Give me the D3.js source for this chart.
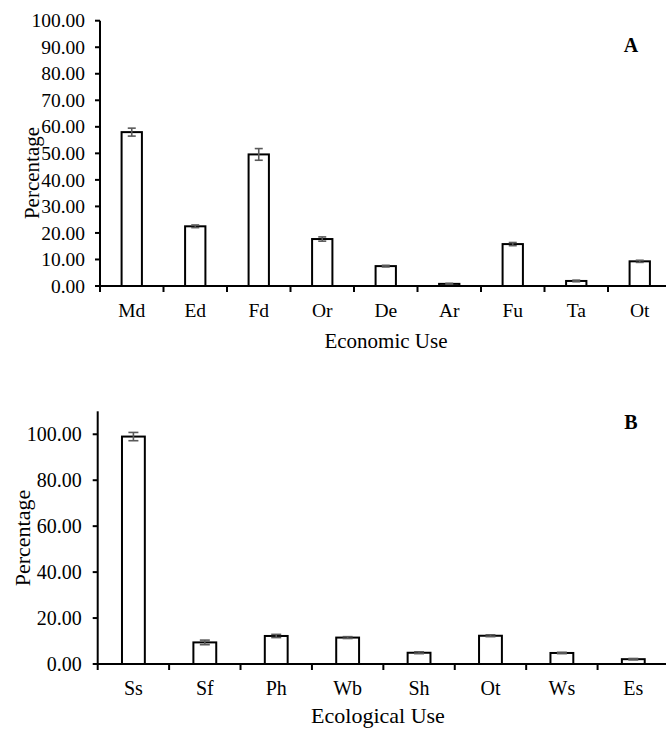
<!DOCTYPE html>
<html><head><meta charset="utf-8">
<script src="https://cdn.jsdelivr.net/npm/d3@7"></script>
<style>
html,body{margin:0;padding:0;background:#fff;}
svg text{font-family:"Liberation Serif","Times New Roman",serif;fill:#000;}
</style></head>
<body>
<svg id="c" width="666" height="729"></svg>
<script>
// ---- Data ----
const econCategories = ["Md","Ed","Fd","Or","De","Ar","Fu","Ta","Ot"];
const econValues     = [58.0, 22.5, 49.6, 17.7, 7.5, 0.8, 15.8, 1.9, 9.3];
const econErrors     = [1.5, 0.5, 2.2, 0.8, 0.3, 0.2, 0.6, 0.3, 0.4];
const econTicks      = [0,10,20,30,40,50,60,70,80,90,100];

const ecoCategories  = ["Ss","Sf","Ph","Wb","Sh","Ot","Ws","Es"];
const ecoValues      = [99.0, 9.4, 12.2, 11.5, 4.9, 12.3, 4.8, 2.1];
const ecoErrors      = [1.8, 1.0, 0.7, 0.4, 0.4, 0.4, 0.3, 0.3];
const ecoTicks       = [0,20,40,60,80,100];

const svg = d3.select("#c");

function panel(opt){
  const g = svg.append("g");
  const x = d3.scaleBand().domain(opt.cats).range(opt.xr).paddingInner(0.68).paddingOuter(0.34);
  const y = d3.scaleLinear().domain(opt.yd).range(opt.yr);
  const step = x.step();

  // bars
  g.selectAll("rect.bar").data(opt.cats).join("rect")
    .attr("x", d => x(d)).attr("width", x.bandwidth())
    .attr("y", (d,i) => y(opt.vals[i]))
    .attr("height", (d,i) => y(0) - y(opt.vals[i]))
    .attr("fill","#fff").attr("stroke","#000").attr("stroke-width",2);

  // error bars
  const eb = g.selectAll("g.eb").data(opt.cats).join("g");
  eb.append("line")
    .attr("x1", d => x(d)+x.bandwidth()/2).attr("x2", d => x(d)+x.bandwidth()/2)
    .attr("y1", (d,i)=> y(opt.vals[i]-opt.errs[i])).attr("y2",(d,i)=> y(opt.vals[i]+opt.errs[i]))
    .attr("stroke","#5a5a5a").attr("stroke-width",1.6);
  [1,-1].forEach(s=>{
    eb.append("line")
      .attr("x1", d => x(d)+x.bandwidth()/2-opt.cap).attr("x2", d => x(d)+x.bandwidth()/2+opt.cap)
      .attr("y1", (d,i)=> y(opt.vals[i]+s*opt.errs[i])).attr("y2",(d,i)=> y(opt.vals[i]+s*opt.errs[i]))
      .attr("stroke","#5a5a5a").attr("stroke-width",1.6);
  });

  // y axis
  g.append("line").attr("x1",opt.xr[0]).attr("x2",opt.xr[0])
    .attr("y1",y(opt.yd[1])).attr("y2",y(0)+1).attr("stroke","#000").attr("stroke-width",2);
  g.selectAll("line.yt").data(opt.ticks).join("line")
    .attr("x1",opt.xr[0]-5).attr("x2",opt.xr[0]).attr("y1",d=>y(d)).attr("y2",d=>y(d))
    .attr("stroke","#000").attr("stroke-width",2);
  g.selectAll("text.yl").data(opt.ticks).join("text")
    .attr("x",opt.xr[0]-opt.labGap).attr("y",d=>y(d)).attr("dy","0.34em")
    .attr("text-anchor","end").style("font-size",opt.fs+"px")
    .text(d=>d3.format(".2f")(d));

  // x axis
  g.append("line").attr("x1",opt.xr[0]-1).attr("x2",666)
    .attr("y1",y(0)).attr("y2",y(0)).attr("stroke","#000").attr("stroke-width",2);
  g.selectAll("line.xt").data(d3.range(opt.cats.length+1)).join("line")
    .attr("x1",i=>opt.xr[0]+i*step).attr("x2",i=>opt.xr[0]+i*step)
    .attr("y1",y(0)).attr("y2",y(0)+6).attr("stroke","#000").attr("stroke-width",2);
  g.selectAll("text.xl").data(opt.cats).join("text")
    .attr("x",d=>x(d)+x.bandwidth()/2).attr("y",y(0)+opt.catDy)
    .attr("text-anchor","middle").style("font-size",opt.fs+"px").text(d=>d);

  // axis titles
  g.append("text").attr("x",opt.titleX).attr("y",y(0)+opt.titleDy)
    .attr("text-anchor","middle").style("font-size",opt.tfs+"px").text(opt.xTitle);
  g.append("text").attr("transform",`translate(${opt.yTitleX},${opt.yTitleY}) rotate(-90)`)
    .attr("text-anchor","middle").style("font-size",opt.tfs+"px").text("Percentage");

  // panel label
  g.append("text").attr("x",631).attr("y",opt.labelY).attr("text-anchor","middle")
    .style("font-size","20px").style("font-weight","bold").text(opt.label);
}

panel({cats:econCategories, vals:econValues, errs:econErrors, ticks:econTicks,
  xr:[100,671.5], yd:[0,100], yr:[286,20.7], cap:4, fs:19.5, tfs:21, labGap:15,
  catDy:31, titleDy:62, titleX:386, xTitle:"Economic Use",
  yTitleX:39, yTitleY:173, label:"A", labelY:52});

panel({cats:ecoCategories, vals:ecoValues, errs:ecoErrors, ticks:ecoTicks,
  xr:[97.7,669], yd:[0,110], yr:[664,411.3], cap:5, fs:20, tfs:22, labGap:16,
  catDy:31, titleDy:59, titleX:378, xTitle:"Ecological Use",
  yTitleX:30, yTitleY:538, label:"B", labelY:429});
</script>
</body></html>
